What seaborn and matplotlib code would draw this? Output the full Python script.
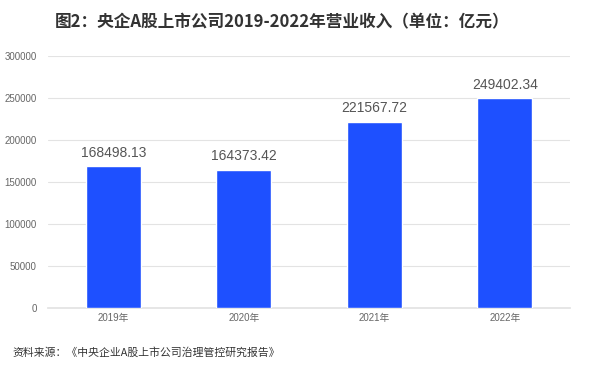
import matplotlib
matplotlib.use("Agg")
import matplotlib.pyplot as plt
import seaborn as sns
import pandas as pd

years = ["2019年", "2020年", "2021年", "2022年"]
revenue = [168498.13, 164373.42, 221567.72, 249402.34]
yticks = [0, 50000, 100000, 150000, 200000, 250000, 300000]

sns.set_theme(style="white")
plt.rcParams['font.family'] = ['Liberation Sans', 'Noto Sans CJK SC', 'DejaVu Sans']

df = pd.DataFrame({"year": years, "revenue": revenue})

fig = plt.figure(figsize=(6.0, 3.65), dpi=100)
ax = fig.add_axes([0.08, 0.156, 0.87, 0.691])
sns.barplot(data=df, x="year", y="revenue", color="#1E50FF", saturation=1,
            width=0.42, ax=ax, zorder=3)
ax.set_ylim(0, 300000)
ax.set_yticks(yticks)
ax.set_yticklabels([str(v) for v in yticks])
ax.grid(axis="y", color="#E3E3E3", linewidth=0.8, zorder=0)
for s in ["top", "right", "left"]:
    ax.spines[s].set_visible(False)
ax.spines["bottom"].set_color("#E3E3E3")
ax.tick_params(axis="both", length=0, labelsize=7, colors="#666666")
ax.tick_params(axis="y", pad=8)
ax.set_xlabel("")
ax.set_ylabel("")
for p, v in zip(ax.patches, revenue):
    ax.text(p.get_x() + p.get_width() / 2, v + 8000, f"{v:.2f}",
            ha="center", va="bottom", fontsize=10, color="#555555")

fig.text(0.47, 0.94, "图2：央企A股上市公司2019-2022年营业收入（单位：亿元）",
         ha="center", va="center", fontsize=12, fontweight="bold", color="#333333",
         family=['Noto Sans CJK SC', 'DejaVu Sans'])
fig.text(0.02, 0.035, "资料来源：《中央企业A股上市公司治理管控研究报告》",
         ha="left", va="center", fontsize=7.8, color="#333333",
         family=['Noto Sans CJK SC', 'DejaVu Sans'])

fig.savefig("out.png", dpi=100)
